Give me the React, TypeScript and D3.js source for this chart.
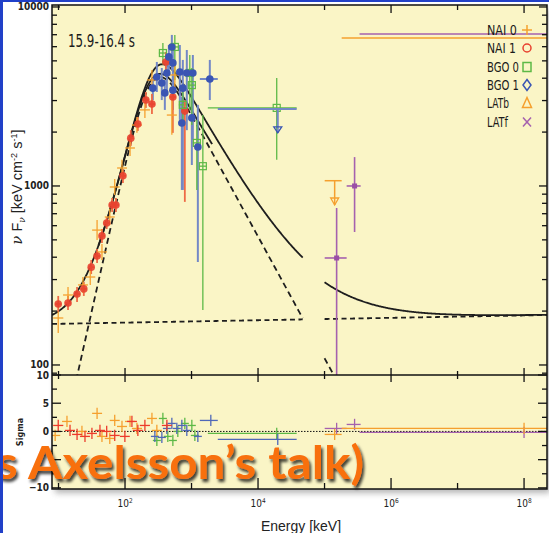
import React from "react";
import * as d3 from "d3";

// ---------------- data ----------------
// flux points: [E keV, E lo, E hi, νFν, νFν lo, νFν hi]
const nai0 = [
  [9.9, 8.3, 11.8, 183, 151, 198],
  [13.9, 11.7, 16.5, 246, 222, 273],
  [23.3, 19.6, 27.7, 280, 252, 310],
  [30, 25.2, 35.7, 310, 280, 343],
  [38, 32, 45, 567, 499, 646],
  [45, 37.8, 53.5, 428, 386, 474],
  [59, 49.6, 70, 671, 606, 745],
  [70, 59, 83, 987, 891, 1094],
  [90, 76, 107, 1260, 1140, 1400],
  [119, 100, 141, 1630, 1470, 1810],
  [151, 127, 180, 2190, 1980, 2430],
  [199, 167, 237, 2660, 2400, 2950],
  [254, 214, 302, 3910, 3430, 4450],
  [506, 425, 602, 2490, 1930, 3140],
  [561, 472, 667, 4170, 3430, 4930],
];
const nai1 = [
  [9.9, 8.9, 11, 219, 198, 243],
  [13.9, 12.5, 15.4, 222, 203, 243],
  [19, 17.1, 21.1, 249, 225, 273],
  [24, 21.6, 26.6, 266, 243, 291],
  [31, 28, 34.4, 352, 322, 386],
  [38, 34.3, 42.1, 406, 371, 444],
  [45, 40.6, 49.9, 526, 480, 575],
  [53, 47.8, 58.8, 621, 575, 671],
  [64, 57.7, 71, 783, 716, 857],
  [73, 66, 81, 783, 716, 857],
  [93, 84, 103, 1140, 1040, 1240],
  [122, 110, 135, 1850, 1670, 2050],
  [156, 141, 173, 2220, 2030, 2430],
  [206, 186, 228, 3020, 2730, 3350],
  [254, 229, 282, 2870, 2520, 3260],
  [411, 371, 456, 4930, 4330, 5590],
  [524, 472, 581, 3140, 1980, 3520],
  [793, 715, 879, 2620, 815, 3020],
];
const bgo0 = [
  [371, 323, 426, 5530, 4750, 6300],
  [561, 489, 644, 5980, 3910, 6980],
  [740, 645, 850, 2840, 2190, 3520],
  [942, 820, 1081, 4280, 2660, 5390],
  [1011, 880, 1160, 3660, 2190, 4560],
  [1202, 1047, 1380, 1740, 950, 2340],
  [1480, 1290, 1700, 1290, 203, 2490],
  [19100, 1758, 38100, 2730, 1400, 4010],
];
const bgo1 = [
  [506, 456, 561, 5980, 4450, 6980],
  [456, 411, 506, 5260, 4170, 6130],
  [524, 472, 581, 4870, 3660, 5750],
  [426, 384, 472, 4280, 3220, 5060],
  [301, 271, 334, 4060, 3350, 4930],
  [357, 322, 396, 3760, 3020, 4560],
  [667, 601, 740, 4330, 2340, 6130],
  [849, 765, 941, 4280, 2050, 5750],
  [1047, 944, 1161, 4280, 1810, 5390],
  [740, 667, 821, 3520, 950, 5060],
  [524, 472, 581, 3430, 2660, 4170],
  [397, 358, 440, 3310, 2660, 3910],
  [262, 236, 291, 3520, 3020, 4010],
  [715, 645, 793, 2250, 950, 3140],
  [1011, 911, 1121, 2400, 1310, 3220],
  [1245, 1122, 1381, 1650, 376, 2840],
  [1884, 1334, 2483, 3960, 3020, 5060],
];
// upper limits: [E, E lo, E hi, νFν, arrow tip]
const bgo1UL = [[19800, 2483, 38100, 2690, 1980]];
const latbUL = [[142000, 100500, 181000, 1070, 783]];
const latf = [
  [152000, 100500, 215000, 396, 40, 753],
  [283000, 215000, 349000, 1000, 553, 1450],
];
// wide LAT bins: [E, E lo, E hi, νFν]
const latbWide = [[1e8, 181000, 5.5e10, 6710]];
const latfWide = [[1e8, 336000, 3e10, 7060]];

// residuals: [E, E lo, E hi, sigma]
const resNai0 = [
  [8.9, 7.5, 10.6, -0.71], [13.4, 11.3, 15.9, 1.77], [22.5, 18.9, 26.8, 0.0],
  [38, 32, 45.2, 3.2], [45, 37.8, 53.5, -0.88], [59, 49.6, 70.2, -1.24],
  [70, 58.9, 83.2, 1.95], [90, 75.7, 107, 0.88], [119, 100, 141, 1.77],
  [151, 127, 180, 0.53], [254, 214, 302, 2.3], [301, 253, 358, 0.18],
];
const resNai1 = [
  [9.9, 8.3, 11.8, 1.06], [14.9, 12.5, 17.7, 0.18], [19, 16, 22.6, -0.53],
  [25, 21, 29.7, -0.88], [31.8, 26.7, 37.8, -0.35], [42, 35.3, 50, 0.18],
  [53, 44.6, 63, 0.0], [70, 58.9, 83.2, -0.71], [99.5, 83.7, 118, -0.88],
  [127, 107, 151, 1.77], [156, 131, 185, 0.18], [199, 167, 237, 1.06],
  [426, 358, 506, 1.06],
];
const resBgo0 = [
  [301, 262, 346, -1.6], [371, 323, 426, 2.3], [440, 383, 505, -0.88],
  [524, 456, 602, -1.6], [622, 542, 714, 0.0], [793, 691, 910, 1.42],
  [1011, 881, 1161, 1.06], [1122, 977, 1288, -0.71], [19100, 1758, 38100, -0.35],
];
const resBgo1 = [
  [281, 245, 323, -0.88], [358, 312, 411, -1.06], [426, 371, 489, 0.53],
  [506, 441, 581, 1.42], [601, 524, 690, 0.53], [715, 623, 821, 1.06],
  [849, 740, 975, 0.18], [1245, 1085, 1429, -0.88], [1950, 1334, 2483, 1.95],
  [19800, 2483, 38100, -1.42],
];
const resLatb = [[142000, 100500, 181000, -0.53], [1e8, 181000, 5.5e10, 0.53]];
const resLatf = [[152000, 100500, 215000, 0.53], [283000, 215000, 349000, 1.24], [1e8, 336000, 3e10, -0.18]];

// model parameters (smoothly broken power law in νFν + power law)
const bandA = { Eb: 255.9, Fb: 6310, s1: 1.65, s2: -0.68, n: 1.37 };
const bandB = { Eb: 276.4, Fb: 7170, s1: 1.65, s2: -0.68, n: 1.37 };
const powerLaw = { E0: 1e4, F0: 177.8, s: 0.0067 };
const gbmRange = [7.98, 46900];
const latRange = [1e5, 2.5e8];
const shortRange = [40, 2040];

// axes
const xMajor = [1e2, 1e4, 1e6, 1e8];
const xMajorExp = ["2", "4", "6", "8"];
const xMinor = [1e1, 1e3, 1e5, 1e7];
const yDecades = [100, 1000, 10000];
const yLabels = ["100", "1000", "10000"];
const sigTicks = [-10, -5, 0, 5, 10];
const sigLabeled = [-10, 0, 5, 10];
const sigLabels = ["\u221210", "0", "5", "10"];
const sigMinor = [-7.5, -2.5, 2.5, 7.5];

const legendNames = ["NAI  0", "NAI  1", "BGO 0", "BGO 1", "LATb", "LATf"];
const legendWidths = [30, 29, 32, 32, 22, 21];
const timeLabel = "15.9-16.4 s";

const C = {
  orange: "#F5A02E",
  red: "#E8412F",
  green: "#5DB946",
  blue: "#3A55B3",
  blueBar: "#7388C6",
  purple: "#A561AE",
  bg: "#FAF5C6",
};

const NARROW = "'Liberation Sans Narrow','DejaVu Sans Condensed','Arial Narrow',sans-serif";

function sbpl(E: number, p: any) {
  const r = E / p.Eb;
  return p.Fb * Math.pow(Math.pow(r, -p.s1 * p.n) + Math.pow(r, -p.s2 * p.n), -1 / p.n);
}
function plF(E: number) {
  return powerLaw.F0 * Math.pow(E / powerLaw.E0, powerLaw.s);
}
function samples(r: number[]) {
  const a = Math.log10(r[0]), b = Math.log10(r[1]);
  return d3.range(0, 301).map((i) => Math.pow(10, a + ((b - a) * i) / 300));
}

export default function App() {
  const X0 = 52, X1 = 547, Y0 = 5, YM = 375, YB = 489;
  const x = d3.scaleLog().domain([Math.pow(10, 0.902), Math.pow(10, 8.345)]).range([X0, X1]);
  const y = d3.scaleLog().domain([Math.pow(10, 1.944), Math.pow(10, 4.011)]).range([YM, Y0]);
  const ys = d3.scaleLinear().domain([-10.2, 10]).range([YB, YM]);

  const line = d3.line<number[]>().x((d) => x(d[0])).y((d) => y(d[1]));
  const curve = (r: number[], f: (E: number) => number) => line(samples(r).map((E) => [E, f(E)])) || "";

  const totA = (E: number) => sbpl(E, bandA) + plF(E);
  const totB = (E: number) => sbpl(E, bandB) + plF(E);
  const bandOnly = (E: number) => sbpl(E, bandA);

  const yMinor: number[] = [];
  [10, 100, 1000].forEach((d) => {
    for (let k = 2; k <= 9; k++) {
      const v = k * d;
      if (v > y.domain()[0] && v < y.domain()[1]) yMinor.push(v);
    }
  });

  const crossMain = (data: number[][], color: string, w: number, key: string) =>
    data.map((d, i) => (
      <g key={key + i} stroke={color} strokeWidth={w}>
        <line x1={x(d[1])} x2={x(d[2])} y1={y(d[3])} y2={y(d[3])} />
        <line x1={x(d[0])} x2={x(d[0])} y1={y(d[4])} y2={y(d[5])} />
      </g>
    ));
  const crossRes = (data: number[][], color: string, key: string) =>
    data.map((d, i) => (
      <g key={key + i} stroke={color} strokeWidth={1.3}>
        <line x1={x(d[1])} x2={x(d[2])} y1={ys(d[3])} y2={ys(d[3])} />
        <line x1={x(d[0])} x2={x(d[0])} y1={ys(d[3] - 1)} y2={ys(d[3] + 1)} />
      </g>
    ));

  const legendY = [30, 48, 67, 85, 103, 122];
  const legendColors = [C.orange, C.red, C.green, C.blue, C.orange, C.purple];

  return (
    <svg width={549} height={533} style={{ position: "absolute", left: 0, top: 0, background: "#fff" }}>
      <defs>
        <clipPath id="clipMain"><rect x={X0} y={Y0} width={X1 - X0} height={YM - Y0} /></clipPath>
        <clipPath id="clipRes"><rect x={X0} y={YM} width={X1 - X0} height={YB - YM} /></clipPath>
        <filter id="shadow" x="-10%" y="-10%" width="130%" height="130%">
          <feGaussianBlur stdDeviation="3" />
        </filter>
        <filter id="txtShadow" x="-5%" y="-20%" width="115%" height="160%">
          <feDropShadow dx="2" dy="3" stdDeviation="1.6" floodColor="#000" floodOpacity="0.75" />
        </filter>
      </defs>

      {/* panel shadow + background */}
      <rect x={X0 + 3} y={Y0 + 4} width={X1 - X0} height={YB - Y0} fill="#777" opacity={0.55} filter="url(#shadow)" />
      <rect x={X0} y={Y0} width={X1 - X0} height={YB - Y0} fill={C.bg} />

      {/* main panel content */}
      <g clipPath="url(#clipMain)" fill="none">
        <path d={curve(gbmRange, totB)} stroke="#1e1e1e" strokeWidth={1.8} />
        <path d={curve(shortRange, totA)} stroke="#1e1e1e" strokeWidth={1.8} />
        <path d={curve(gbmRange, bandOnly)} stroke="#1e1e1e" strokeWidth={1.8} strokeDasharray="6 4" />
        <path d={curve(gbmRange, plF)} stroke="#1e1e1e" strokeWidth={1.8} strokeDasharray="5 3.5" />
        <path d={curve(latRange, totA)} stroke="#1e1e1e" strokeWidth={1.8} />
        <path d={curve(latRange, bandOnly)} stroke="#1e1e1e" strokeWidth={1.8} strokeDasharray="6 4" />
        <path d={curve(latRange, plF)} stroke="#1e1e1e" strokeWidth={1.8} strokeDasharray="5 3.5" />

        {latbWide.map((d, i) => (
          <line key={"lbw" + i} x1={x(d[1])} x2={x(d[2])} y1={y(d[3])} y2={y(d[3])} stroke={C.orange} strokeWidth={1.5} />
        ))}
        {latfWide.map((d, i) => (
          <line key={"lfw" + i} x1={x(d[1])} x2={x(d[2])} y1={y(d[3])} y2={y(d[3])} stroke={C.purple} strokeWidth={1.5} />
        ))}

        {crossMain(bgo1, C.blueBar, 2, "b1")}
        {crossMain(bgo0, C.green, 1.3, "b0")}
        {crossMain(nai1, "#EE6A45", 1.8, "n1")}
        {crossMain(nai0, C.orange, 1.3, "n0")}

        {nai1.map((d, i) => (
          <circle key={"n1c" + i} cx={x(d[0])} cy={y(d[3])} r={3.8} fill={C.red} opacity={0.9} />
        ))}
        {bgo0.map((d, i) => (
          <rect key={"b0s" + i} x={x(d[0]) - 3.5} y={y(d[3]) - 3.5} width={7} height={7} fill="none" stroke={C.green} strokeWidth={1.2} />
        ))}
        {bgo1.map((d, i) => (
          <circle key={"b1c" + i} cx={x(d[0])} cy={y(d[3])} r={3.8} fill={C.blue} />
        ))}

        {bgo1UL.map((d, i) => (
          <g key={"bul" + i} stroke={C.blueBar} strokeWidth={2} fill="none">
            <line x1={x(d[1])} x2={x(d[2])} y1={y(d[3])} y2={y(d[3])} />
            <line x1={x(d[0])} x2={x(d[0])} y1={y(d[3])} y2={y(d[4])} />
            <path d={`M${x(d[0]) - 4},${y(d[4]) - 6} L${x(d[0]) + 4},${y(d[4]) - 6} L${x(d[0])},${y(d[4])} Z`} stroke={C.blue} strokeWidth={1.3} />
          </g>
        ))}
        {latbUL.map((d, i) => (
          <g key={"lul" + i} stroke={C.orange} strokeWidth={1.5} fill="none">
            <line x1={x(d[1])} x2={x(d[2])} y1={y(d[3])} y2={y(d[3])} />
            <line x1={x(d[0])} x2={x(d[0])} y1={y(d[3])} y2={y(d[4])} />
            <path d={`M${x(d[0]) - 4},${y(d[4]) - 7} L${x(d[0]) + 4},${y(d[4]) - 7} L${x(d[0])},${y(d[4])} Z`} strokeWidth={1.3} />
          </g>
        ))}
        {crossMain(latf, C.purple, 1.6, "lf")}
        {latf.map((d, i) => (
          <rect key={"lfm" + i} x={x(d[0]) - 2.5} y={y(d[3]) - 2.5} width={5} height={5} fill="#9A4FA6" />
        ))}
      </g>

      {/* residual panel content */}
      <g clipPath="url(#clipRes)">
        <line x1={X0} x2={X1} y1={ys(0)} y2={ys(0)} stroke="#111" strokeWidth={1} strokeDasharray="1.5 1.5" />
        {crossRes(resLatf, C.purple, "rlf")}
        {crossRes(resLatb, C.orange, "rlb")}
        {crossRes(resBgo0, C.green, "rb0")}
        {crossRes(resBgo1, "#4F68B8", "rb1")}
        {crossRes(resNai0, C.orange, "rn0")}
        {crossRes(resNai1, "#EC3B2B", "rn1")}
      </g>

      {/* frames */}
      <g stroke="#111" strokeWidth={1.5} fill="none">
        <rect x={X0} y={Y0} width={X1 - X0} height={YB - Y0} />
        <line x1={X0} x2={X1} y1={YM} y2={YM} />
      </g>

      {/* ticks */}
      <g stroke="#111" strokeWidth={1.3}>
        {xMajor.map((v, i) => (
          <g key={"xM" + i}>
            <line x1={x(v)} x2={x(v)} y1={Y0} y2={Y0 + 8} />
            <line x1={x(v)} x2={x(v)} y1={YM - 7} y2={YM + 7} />
            <line x1={x(v)} x2={x(v)} y1={YB} y2={YB - 11} />
          </g>
        ))}
        {xMinor.map((v, i) => (
          <g key={"xm" + i}>
            <line x1={x(v)} x2={x(v)} y1={Y0} y2={Y0 + 5} />
            <line x1={x(v)} x2={x(v)} y1={YM - 4} y2={YM + 4} />
            <line x1={x(v)} x2={x(v)} y1={YB} y2={YB - 6} />
          </g>
        ))}
        {yDecades.map((v, i) => (
          <g key={"yM" + i}>
            <line x1={X0} x2={X0 + 8} y1={y(v)} y2={y(v)} />
            <line x1={X1} x2={X1 - 8} y1={y(v)} y2={y(v)} />
          </g>
        ))}
        {yMinor.map((v, i) => (
          <g key={"ym" + i}>
            <line x1={X0} x2={X0 + 5} y1={y(v)} y2={y(v)} />
            <line x1={X1} x2={X1 - 5} y1={y(v)} y2={y(v)} />
          </g>
        ))}
        {sigTicks.map((v, i) => (
          <g key={"sM" + i}>
            <line x1={X0} x2={X0 + 9} y1={ys(v)} y2={ys(v)} />
            <line x1={X1} x2={X1 - 9} y1={ys(v)} y2={ys(v)} />
          </g>
        ))}
        {sigMinor.map((v, i) => (
          <g key={"sm" + i}>
            <line x1={X0} x2={X0 + 5} y1={ys(v)} y2={ys(v)} />
            <line x1={X1} x2={X1 - 5} y1={ys(v)} y2={ys(v)} />
          </g>
        ))}
      </g>

      {/* tick labels */}
      <g fontFamily={NARROW} fontSize={10} fill="#222" fontWeight="bold">
        {yDecades.map((v, i) => (
          <text key={"yl" + i} x={X0 - 3} y={y(v) + 3.5} textAnchor="end">{yLabels[i]}</text>
        ))}
        {sigLabeled.map((v, i) => (
          <text key={"sl" + i} x={X0 - 3} y={ys(v) + 3.5} textAnchor="end">{sigLabels[i]}</text>
        ))}
        {xMajor.map((v, i) => (
          <text key={"xl" + i} x={x(v)} y={507} textAnchor="middle" fontWeight="normal">
            10<tspan dy={-4} fontSize={6.5}>{xMajorExp[i]}</tspan>
          </text>
        ))}
      </g>

      {/* axis titles */}
      <text x={301} y={531} textAnchor="middle" fontFamily="'Liberation Sans',Arial,sans-serif" fontSize={14} fill="#222">Energy [keV]</text>
      <text transform="translate(22,187) rotate(-90)" textAnchor="middle" fontFamily="'Liberation Sans',Arial,sans-serif" fontSize={14.5} fill="#222">
        <tspan fontStyle="italic" fontFamily="'DejaVu Serif',serif">ν</tspan> F<tspan fontStyle="italic" fontFamily="'DejaVu Serif',serif" fontSize={9} dy={3}>ν</tspan>
        <tspan dy={-3}> [keV cm</tspan><tspan fontSize={9} dy={-5}>-2</tspan><tspan dy={5}> s</tspan><tspan fontSize={9} dy={-5}>-1</tspan><tspan dy={5}>]</tspan>
      </text>
      <text transform="translate(23,432) rotate(-90)" textAnchor="middle" fontFamily={NARROW} fontSize={9} fontWeight="bold" fill="#222">Sigma</text>

      {/* time label */}
      <text x={68} y={47} fontFamily={NARROW} fontSize={18} fill="#1a1a1a" textLength={67} lengthAdjust="spacingAndGlyphs">{timeLabel}</text>

      {/* legend */}
      <g fontFamily={NARROW} fontSize={14} fill="#1a1a1a">
        {legendNames.map((n, i) => (
          <text key={"lg" + i} x={487} y={legendY[i] + 5} textLength={legendWidths[i]} lengthAdjust="spacingAndGlyphs">{n}</text>
        ))}
      </g>
      <g fill="none" strokeWidth={1.5}>
        <g stroke={legendColors[0]}>
          <line x1={522} x2={532} y1={legendY[0]} y2={legendY[0]} />
          <line x1={527} x2={527} y1={legendY[0] - 5} y2={legendY[0] + 5} />
        </g>
        <circle cx={527} cy={legendY[1]} r={4} stroke={legendColors[1]} />
        <rect x={523} y={legendY[2] - 4.5} width={8} height={9} stroke={legendColors[2]} />
        <path d={`M527,${legendY[3] - 5.5} L531,${legendY[3]} L527,${legendY[3] + 5.5} L523,${legendY[3]} Z`} stroke={legendColors[3]} />
        <path d={`M527,${legendY[4] - 5.5} L531.5,${legendY[4] + 4.5} L522.5,${legendY[4] + 4.5} Z`} stroke={legendColors[4]} />
        <g stroke={legendColors[5]}>
          <line x1={523} x2={531} y1={legendY[5] - 4.5} y2={legendY[5] + 4.5} />
          <line x1={523} x2={531} y1={legendY[5] + 4.5} y2={legendY[5] - 4.5} />
        </g>
      </g>

      {/* slide overlay text */}
      <text x={-4} y={479} fontFamily="Lato,'Open Sans',sans-serif" fontWeight={700} fontSize={45} fill="#F86F10" filter="url(#txtShadow)" textLength={368} lengthAdjust="spacingAndGlyphs">
        s Axelsson’s talk)
      </text>

      {/* slide frame */}
      <rect x={0} y={0} width={549} height={2} fill="#2140C8" />
      <rect x={0} y={0} width={3} height={533} fill="#2140C8" />
    </svg>
  );
}
